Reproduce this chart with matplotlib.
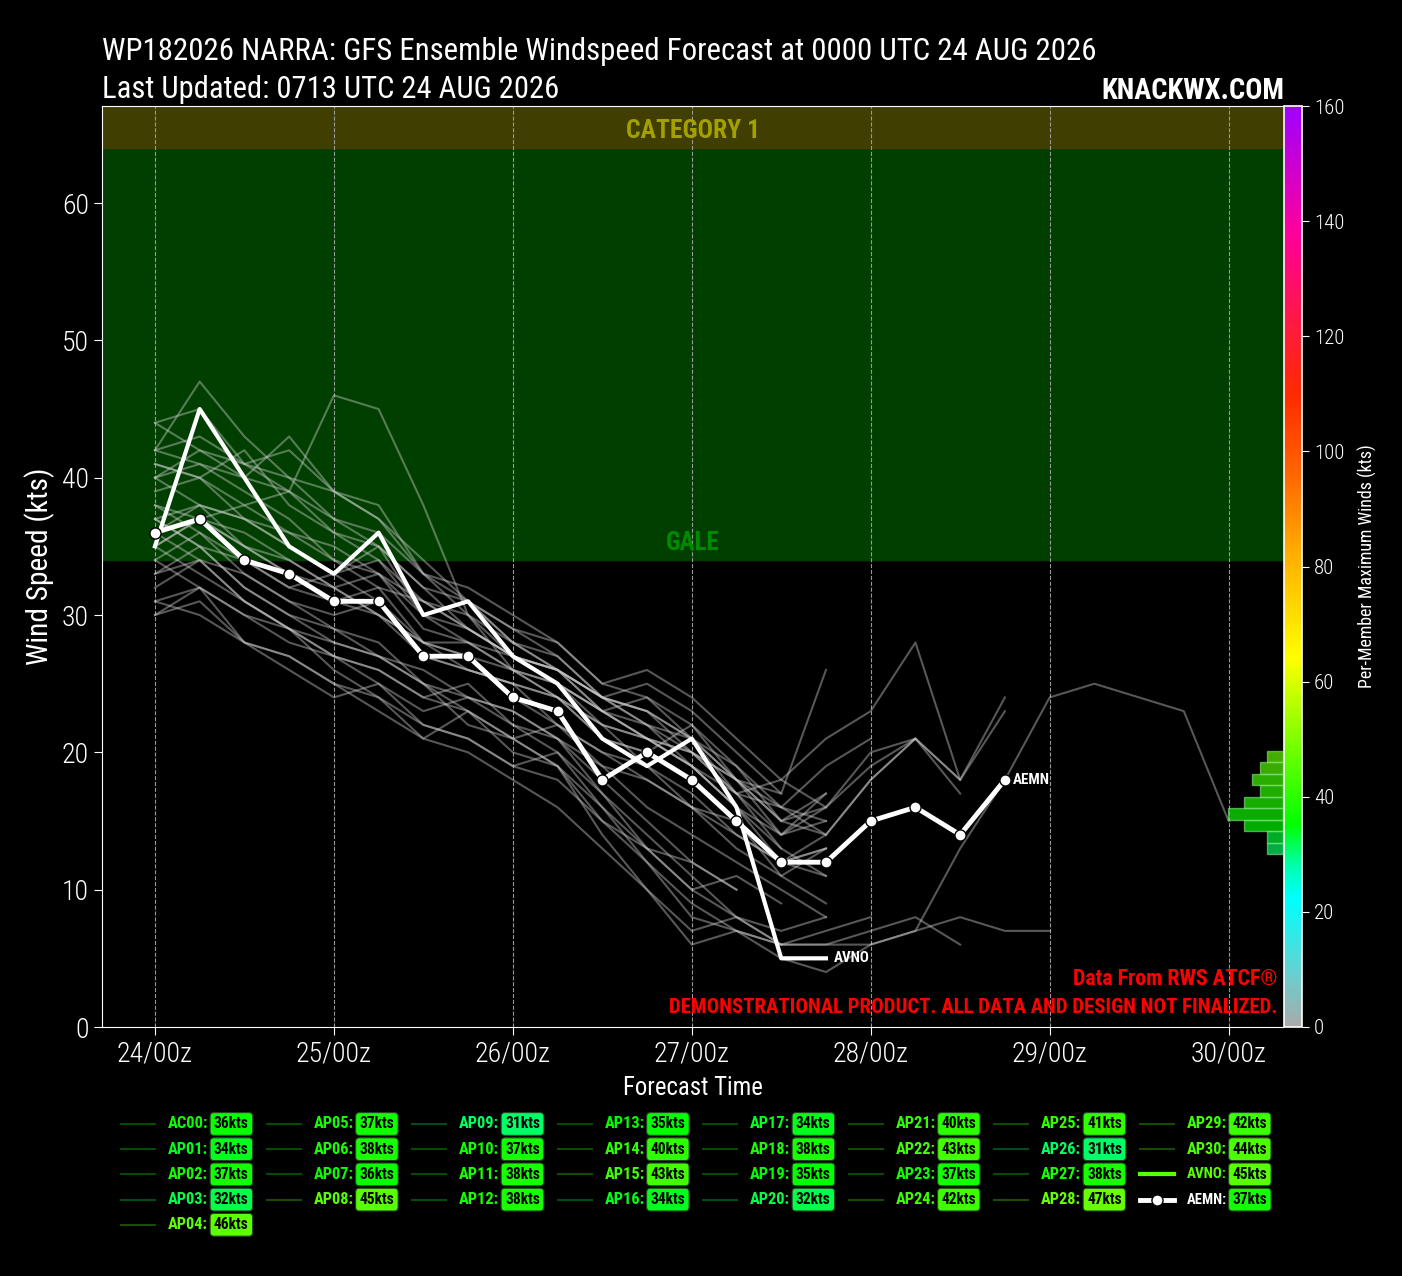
import numpy as np
import matplotlib
matplotlib.use("Agg")
import matplotlib.pyplot as plt
import matplotlib.transforms as mtransforms
from matplotlib import font_manager
from matplotlib.colors import LinearSegmentedColormap, Normalize
from matplotlib.lines import Line2D
from matplotlib.cm import ScalarMappable

# --- datos (kts cada 6 h desde 24/00z) ---
DAY_TICKS = [0, 24, 48, 72, 96, 120, 144]
DAY_LABELS = ["24/00z", "25/00z", "26/00z", "27/00z", "28/00z", "29/00z", "30/00z"]

AC00 = [36, 34, 33, 31, 30, 31, 27, 26, 25, 22, 20, 19, 16, 14, 12, 13]
AP01 = [33, 34, 31, 29, 27, 26, 24, 25, 22, 21, 18, 15, 12, 10]
AP02 = [37, 35, 34, 32, 33, 31, 28, 27, 26, 24, 22, 21, 20, 17, 18, 21, 23, 28, 18, 24]
AP03 = [31, 32, 28, 27, 25, 24, 21, 23, 20, 19, 14, 10, 7, 8, 6, 6, 7, 8, 6]
AP04 = [41, 40, 38, 39, 46, 45, 38, 30, 26, 24, 22, 21, 19, 16, 13]
AP05 = [35, 37, 35, 33, 31, 32, 28, 26, 25, 24, 21, 20, 22, 18, 15, 16, 19, 21, 17]
AP06 = [38, 36, 34, 32, 31, 30, 28, 28, 27, 26, 23, 24, 22, 19, 15, 17]
AP07 = [34, 36, 33, 31, 29, 28, 25, 24, 23, 21, 17, 13, 10, 11, 9]
AP08 = [44, 45, 41, 39, 36, 34, 31, 29, 27, 25, 22, 19, 17, 14, 12, 13]
AP09 = [31, 30, 28, 26, 24, 25, 22, 21, 19, 20, 16, 12, 9, 7, 5, 4, 6, 7, 8, 7, 7]
AP10 = [37, 35, 32, 30, 28, 27, 25, 23, 21, 22, 19, 18, 16, 15, 11, 9]
AP11 = [36, 38, 37, 35, 33, 34, 30, 31, 28, 26, 24, 22, 21, 18, 17, 26]
AP12 = [38, 37, 36, 34, 32, 33, 29, 28, 26, 25, 23, 21, 20, 17, 14, 16, 20, 21, 18, 23]
AP13 = [35, 33, 31, 29, 28, 27, 25, 22, 21, 19, 16, 13, 10, 8, 6, 6, 6, 7, 13, 18, 24, 25, 24, 23, 15]
AP14 = [40, 38, 37, 36, 35, 33, 30, 29, 27, 26, 24, 23, 21, 18, 14, 15]
AP15 = [42, 41, 40, 43, 39, 37, 33, 31, 29, 28, 25, 24, 21, 17, 13, 11]
AP16 = [34, 32, 30, 29, 27, 25, 23, 24, 22, 20, 17, 14, 11, 8, 7, 8]
AP17 = [32, 34, 31, 29, 26, 24, 22, 21, 19, 18, 15, 13, 12, 10]
AP18 = [36, 37, 38, 36, 34, 32, 31, 29, 27, 25, 23, 22, 19, 16, 12, 14, 18, 21, 18]
AP19 = [33, 35, 32, 30, 29, 27, 26, 24, 23, 21, 19, 16, 14, 12, 10, 8]
AP20 = [30, 32, 30, 28, 27, 26, 24, 23, 21, 19, 15, 12, 8, 7, 6]
AP21 = [39, 40, 37, 35, 33, 35, 30, 28, 26, 25, 23, 21, 19, 17, 16, 19, 21]
AP22 = [42, 43, 41, 40, 39, 37, 34, 31, 28, 27, 24, 25, 23, 20, 17]
AP23 = [35, 37, 35, 34, 32, 30, 28, 27, 24, 22, 20, 18, 16, 13, 11, 13]
AP24 = [41, 40, 42, 38, 36, 35, 32, 29, 27, 26, 24, 22, 20, 18, 15, 14, 18, 21]
AP25 = [40, 41, 39, 37, 34, 33, 31, 30, 27, 26, 23, 21, 19, 16, 14, 17]
AP26 = [30, 31, 28, 27, 25, 23, 21, 20, 18, 16, 13, 10, 6, 7, 6, 7, 8]
AP27 = [37, 38, 35, 33, 32, 30, 27, 26, 25, 24, 21, 20, 18, 15, 12, 11]
AP28 = [42, 47, 43, 40, 37, 36, 33, 30, 28, 26, 24, 23, 21, 19, 16, 14]
AP29 = [40, 42, 41, 42, 39, 38, 33, 32, 30, 28, 25, 26, 24, 21, 18, 16]
AP30 = [44, 42, 40, 39, 37, 35, 32, 31, 29, 27, 24, 23, 20, 18, 16, 15]

AVNO = [35, 45, 40, 35, 33, 36, 30, 31, 27, 25, 21, 19, 21, 16, 5, 5]
AEMN = [36, 37, 34, 33, 31, 31, 27, 27, 24, 23, 18, 20, 18, 15, 12, 12, 15, 16, 14, 18]

MEMBER_NAMES = ['AC00'] + [f'AP{i:02d}' for i in range(1, 31)]
MEMBERS = [AC00, AP01, AP02, AP03, AP04, AP05, AP06, AP07, AP08, AP09, AP10,
           AP11, AP12, AP13, AP14, AP15, AP16, AP17, AP18, AP19, AP20,
           AP21, AP22, AP23, AP24, AP25, AP26, AP27, AP28, AP29, AP30]

HIST_BINS = np.arange(30, 50, 2)

# fuente estrecha si hay alguna
ttf = font_manager.fontManager.ttflist
narrow = sorted({f.name for f in ttf if 'Condensed' in f.name or 'Narrow' in f.name})
if 'Roboto Condensed' in narrow:
    plt.rcParams['font.family'] = ['Roboto Condensed', 'DejaVu Sans']
elif narrow:
    plt.rcParams['font.family'] = [narrow[0], 'DejaVu Sans']
else:
    plt.rcParams['font.family'] = ['DejaVu Sans']

# escala de colores por viento maximo
stops = [(0, '#aaaaaa'), (10, '#60d4d4'), (22, '#00ffff'), (28, '#00ffaa'),
         (35, '#00ff00'), (50, '#80ff00'), (64, '#ffff00'), (83, '#ffaa00'),
         (96, '#ff6600'), (110, '#ff2a00'), (122, '#ff1a40'), (138, '#ff0099'),
         (160, '#a000ff')]
cmap = LinearSegmentedColormap.from_list('wind', [(v / 160, c) for v, c in stops])
norm = Normalize(0, 160)

W, H = 1402, 1276
fig = plt.figure(figsize=(W / 100, H / 100), dpi=100, facecolor='black')
renderer = fig.canvas.get_renderer()

def fx(px):
    return px / W

def fy(py):
    return 1 - py / H

def fit(t, width_px):
    # ajusta el tamano de letra para que el texto ocupe width_px
    w = t.get_window_extent(renderer).width
    t.set_fontsize(t.get_fontsize() * width_px / w)
    return t

ax = fig.add_axes([fx(102), fy(1027), fx(1283) - fx(102), fy(106) - fy(1027)])
ax.set_facecolor('black')
ax.set_xlim(-7.1, 151.3)
ax.set_ylim(0, 67.07)

ax.axhspan(34, 64, color='#003f00', zorder=0)
ax.axhspan(64, 70, color='#403e00', zorder=0)
trans = mtransforms.blended_transform_factory(ax.transAxes, ax.transData)
fit(ax.text(0.5, 64.4, 'CATEGORY 1', transform=trans, ha='center', va='bottom',
            color='#a3a000', fontsize=17, fontweight='bold'), 134)
fit(ax.text(0.5, 34.4, 'GALE', transform=trans, ha='center', va='bottom',
            color='#008a00', fontsize=17, fontweight='bold'), 54)

for vals in MEMBERS:
    hrs = np.arange(len(vals)) * 6
    ax.plot(hrs, vals, color='#d0d0d0', alpha=0.42, lw=1.5, zorder=2)

hrs = np.arange(len(AVNO)) * 6
ax.plot(hrs, AVNO, color='white', lw=3, zorder=4)
fit(ax.annotate('AVNO', (hrs[-1], AVNO[-1]), xytext=(6, 0), textcoords='offset points',
                color='white', fontsize=11, fontweight='bold', va='center'), 36)
hrs = np.arange(len(AEMN)) * 6
ax.plot(hrs, AEMN, color='white', lw=3.5, marker='o', ms=8, mfc='white',
        mec='black', mew=1, zorder=5)
fit(ax.annotate('AEMN', (hrs[-1], AEMN[-1]), xytext=(6, 0), textcoords='offset points',
                color='white', fontsize=11, fontweight='bold', va='center'), 37)

ax.set_xticks(DAY_TICKS)
ax.set_xticklabels(DAY_LABELS, fontweight='light')
ax.set_yticks(range(0, 61, 10))
ax.set_yticklabels([str(v) for v in range(0, 61, 10)], fontweight='light')
ax.grid(axis='x', color='#999999', linestyle='--', lw=0.8, zorder=1)
ax.tick_params(colors='white', labelsize=20, length=6)
for side in ['left', 'bottom', 'top']:
    ax.spines[side].set_color('white')
ax.spines['right'].set_visible(False)
xl = ax.set_xlabel('Forecast Time', color='white', fontsize=19, labelpad=6)
yl = ax.set_ylabel('Wind Speed (kts)', color='white', fontsize=19, labelpad=5)
fit(xl, 140)
w = yl.get_window_extent(renderer).height
yl.set_fontsize(yl.get_fontsize() * 197 / w)

fit(ax.text(0.995, 0.011, 'DEMONSTRATIONAL PRODUCT. ALL DATA AND DESIGN NOT FINALIZED.',
            transform=ax.transAxes, ha='right', va='bottom', color='#ff0000',
            fontsize=15, fontweight='bold'), 610)
fit(ax.text(0.995, 0.04, 'Data From RWS ATCF\u00ae', transform=ax.transAxes,
            ha='right', va='bottom', color='#ff0000', fontsize=15, fontweight='bold'), 205)

# histograma de vientos maximos
maxima = [max(v) for v in MEMBERS] + [max(AVNO), max(AEMN)]
counts, edges = np.histogram(maxima, bins=HIST_BINS)
hax = fig.add_axes(ax.get_position())
hax.patch.set_visible(False)
hax.set_ylim(0, 160)
hax.set_xlim(151.4, 0)
hax.axis('off')
for c, lo in zip(counts, edges[:-1]):
    if c == 0:
        continue
    col = cmap(norm(lo + 1))
    hax.barh(lo, c, height=2, align='edge', left=0,
             color=(col[0], col[1], col[2], 0.68),
             edgecolor=(0.55, 0.9, 0.55, 0.6), lw=1, zorder=3)

# barra de color
cax = fig.add_axes([fx(1284), fy(1027), fx(1302) - fx(1284), fy(106) - fy(1027)])
cb = fig.colorbar(ScalarMappable(norm=norm, cmap=cmap), cax=cax)
cb.set_ticks(range(0, 161, 20))
cax.set_yticklabels([str(v) for v in range(0, 161, 20)], fontweight='light')
cb.outline.set_edgecolor('white')
cb.outline.set_linewidth(1.2)
cax.tick_params(colors='white', labelsize=15, length=5)
cb.set_label('Per-Member Maximum Winds (kts)', color='white', fontsize=14, labelpad=10)
cl = cax.yaxis.label
w = cl.get_window_extent(renderer).height
cl.set_fontsize(cl.get_fontsize() * 245 / w)

# titulos
fit(fig.text(fx(102), fy(60), 'WP182026 NARRA: GFS Ensemble Windspeed Forecast at 0000 UTC 24 AUG 2026',
             color='white', fontsize=24, ha='left', va='baseline'), 995)
fit(fig.text(fx(102), fy(98), 'Last Updated: 0713 UTC 24 AUG 2026',
             color='white', fontsize=24, ha='left', va='baseline'), 458)
fit(fig.text(fx(1284), fy(99), 'KNACKWX.COM', color='white', fontsize=22,
             fontweight='bold', ha='right', va='baseline'), 183)

# leyenda manual, 8 columnas
names = MEMBER_NAMES + ['AVNO', 'AEMN']
series = MEMBERS + [AVNO, AEMN]
ncol = 8
nsmall, nlarge = divmod(len(names), ncol)
for k, (name, vals) in enumerate(zip(names, series)):
    if k < nlarge * (nsmall + 1):
        c, r = divmod(k, nsmall + 1)
    else:
        c, r = divmod(k - nlarge * (nsmall + 1), nsmall)
        c += nlarge
    x0 = 121 + 145.5 * c
    y0 = 1124 + 25.2 * r
    vmax = max(vals)
    col = cmap(norm(vmax))
    if name == 'AEMN':
        fig.add_artist(Line2D([fx(x0), fx(x0 + 34)], [fy(y0), fy(y0)], color='white', lw=3.5))
        fig.add_artist(Line2D([fx(x0 + 17)], [fy(y0)], color='white', marker='o', ms=8,
                              mfc='white', mec='black', lw=0))
        tcol = 'white'
    elif name == 'AVNO':
        fig.add_artist(Line2D([fx(x0), fx(x0 + 34)], [fy(y0), fy(y0)], color=col, lw=3))
        tcol = col
    else:
        fig.add_artist(Line2D([fx(x0), fx(x0 + 34)], [fy(y0), fy(y0)], color=col, lw=1.5, alpha=0.3))
        tcol = col
    fit(fig.text(fx(x0 + 47), fy(y0), f'{name}:', color=tcol, fontsize=12,
                 fontweight='bold', ha='left', va='center'), 40)
    fit(fig.text(fx(x0 + 93), fy(y0), f'{vmax}kts', color='black', fontsize=12,
                 fontweight='bold', ha='left', va='center',
                 bbox=dict(boxstyle='round,pad=0.25', fc=col, ec='#224422', lw=0.8)), 35)

fig.savefig('out.png', dpi=100, facecolor='black')
